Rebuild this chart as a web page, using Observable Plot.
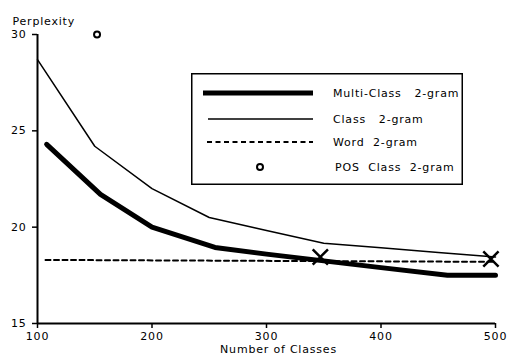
<!DOCTYPE html>
<html><head><meta charset="utf-8">
<script src="https://cdn.jsdelivr.net/npm/d3@7"></script>
<script src="https://cdn.jsdelivr.net/npm/@observablehq/plot@0.6"></script>
<style>
body{margin:0;background:#fff;}
#wrap{position:relative;width:509px;height:359px;font-family:"DejaVu Sans",sans-serif;}
#legend{position:absolute;left:191px;top:73px;}
</style>
</head><body>
<div id="wrap"><div id="legend"></div></div>
<script>
// ---- data ----
const xTicks = [100, 200, 300, 400, 500];
const yTicks = [15, 20, 25, 30];
const multiX = [108, 155, 200, 255, 300, 350, 400, 458, 500];
const multiY = [24.3, 21.7, 20.0, 18.95, 18.6, 18.25, 17.9, 17.5, 17.5];
const classX = [100, 150, 200, 250, 300, 350, 400, 450, 500];
const classY = [28.7, 24.2, 22.0, 20.5, 19.83, 19.17, 18.93, 18.69, 18.45];
const wordX = [107, 500];
const wordY = [18.3, 18.2];
const crossX = [347, 496];
const crossY = [18.45, 18.35];
const posX = [152];
const posY = [30.0];
const seriesNames = ["Multi-Class   2-gram", "Class   2-gram", "Word  2-gram", "POS  Class  2-gram"];
const xLabel = "Number of Classes";
const yLabel = "Perplexity";

const toRows = (xs, ys) => xs.map((x, i) => ({x, y: ys[i]}));
const multi = toRows(multiX, multiY);
const cls = toRows(classX, classY);
const word = toRows(wordX, wordY);
const cross = toRows(crossX, crossY);
const pos = toRows(posX, posY);

const chart = Plot.plot({
  width: 509, height: 359,
  marginLeft: 37, marginRight: 14, marginTop: 34, marginBottom: 36,
  style: {fontFamily: "DejaVu Sans, sans-serif", fontSize: "11px", background: "white", color: "black", letterSpacing: "0.8px"},
  x: {domain: [100, 500]},
  y: {domain: [15, 30]},
  marks: [
    Plot.axisX({ticks: xTicks, tickSize: 5, tickPadding: 4, tickFormat: d => String(d), label: null, strokeWidth: 1.5}),
    Plot.axisY({ticks: yTicks, tickSize: 5, tickPadding: 6, label: null, strokeWidth: 1.5}),
    Plot.text([yLabel], {frameAnchor: "top-left", textAnchor: "start", dx: -25, dy: -17}),
    Plot.text([xLabel], {frameAnchor: "bottom", dx: 12, dy: 29}),
    Plot.ruleX([100], {strokeWidth: 2}),
    Plot.ruleY([15], {strokeWidth: 2}),
    Plot.line(word, {x: "x", y: "y", strokeWidth: 2, strokeDasharray: "5,3.5"}),
    Plot.line(cls, {x: "x", y: "y", strokeWidth: 1.5}),
    Plot.line(multi, {x: "x", y: "y", strokeWidth: 5}),
    Plot.dot(cross, {x: "x", y: "y", symbol: "times", r: 7, stroke: "black", strokeWidth: 2.5}),
    Plot.dot(pos, {x: "x", y: "y", r: 3, stroke: "black", strokeWidth: 2, fill: "white"})
  ]
});
document.getElementById("wrap").prepend(chart);

// ---- legend (inside plot area, like the original) ----
const lg = d3.select("#legend").append("svg").attr("width", 272).attr("height", 112)
  .style("font-family", "DejaVu Sans, sans-serif").style("font-size", "11px").style("letter-spacing", "0.8px");
lg.append("rect").attr("x", 0.75).attr("y", 0.75).attr("width", 270.5).attr("height", 110.5)
  .attr("fill", "white").attr("stroke", "black").attr("stroke-width", 1.5);
const rowsY = [20, 46, 69, 94];
lg.append("line").attr("x1", 12).attr("x2", 122).attr("y1", rowsY[0]).attr("y2", rowsY[0]).attr("stroke", "black").attr("stroke-width", 5);
lg.append("line").attr("x1", 17).attr("x2", 122).attr("y1", rowsY[1]).attr("y2", rowsY[1]).attr("stroke", "black").attr("stroke-width", 1.5);
lg.append("line").attr("x1", 16).attr("x2", 122).attr("y1", rowsY[2]).attr("y2", rowsY[2]).attr("stroke", "black").attr("stroke-width", 2).attr("stroke-dasharray", "5,3.5");
lg.append("circle").attr("cx", 69).attr("cy", rowsY[3]).attr("r", 3).attr("fill", "white").attr("stroke", "black").attr("stroke-width", 2);
seriesNames.forEach((t, i) => {
  lg.append("text").attr("x", i === 3 ? 144 : 142).attr("y", rowsY[i]).attr("dy", "0.35em")
    .style("white-space", "pre").text(t);
});
</script>
</body></html>
